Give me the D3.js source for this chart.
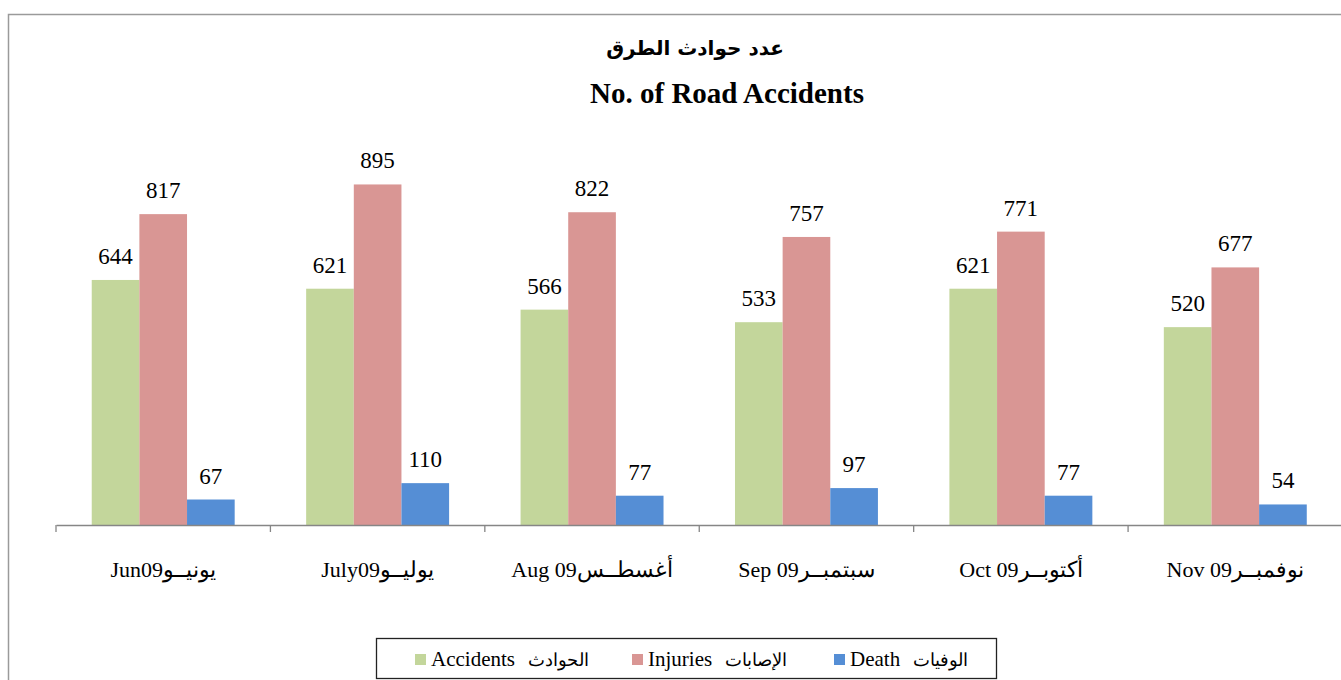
<!DOCTYPE html>
<html>
<head>
<meta charset="utf-8">
<script src="https://cdn.jsdelivr.net/npm/d3@7"></script>
<style>
  html, body { margin: 0; padding: 0; background: #fff; }
  svg { display: block; }
  text { font-family: "Liberation Serif", "Times New Roman", serif; fill: #000; }
</style>
</head>
<body>
<svg id="chart" width="1341" height="680"></svg>
<script>
// ---- data ----
const categories = ["Jun09يونيــو", "July09يوليــو", "Aug 09أغسطــس", "Sep 09سبتمبــر", "Oct 09أكتوبــر", "Nov 09نوفمبــر"];
const seriesNamesEn = ["Accidents", "Injuries", "Death"];
const seriesNamesAr = ["الحوادث", "الإصابات", "الوفيات"];
const accidents = [644, 621, 566, 533, 621, 520];
const injuries = [817, 895, 822, 757, 771, 677];
const deaths = [67, 110, 77, 97, 77, 54];
const seriesColors = ["#C3D69B", "#D99694", "#558ED5"];
const titleArabic = "عدد حوادث الطرق";
const titleEnglish = "No. of Road Accidents";

const seriesValues = [accidents, injuries, deaths];

const svg = d3.select("#chart");
const W = 1341, H = 680;

// outer frame
svg.append("path")
  .attr("d", `M8.5,${H} L8.5,14.5 L${W},14.5`)
  .attr("fill", "none").attr("stroke", "#9a9a9a").attr("stroke-width", 1.5);

// scales
const x = d3.scaleBand().domain(categories).range([56, 1342.5]).padding(0);
const xi = d3.scaleBand().domain(d3.range(3)).range([0, x.bandwidth()]).paddingInner(0).paddingOuter(0.75);
const y = d3.scaleLinear().domain([0, 1000]).range([525, 144.5]);

// bars
const groups = svg.append("g").selectAll("g")
  .data(categories).join("g")
  .attr("transform", d => `translate(${x(d)},0)`);

groups.each(function(cat, ci) {
  const g = d3.select(this);
  seriesValues.forEach((vals, si) => {
    const v = vals[ci];
    g.append("rect")
      .attr("x", xi(si)).attr("width", xi.bandwidth())
      .attr("y", y(v)).attr("height", y(0) - y(v))
      .attr("fill", seriesColors[si]);
    g.append("text")
      .attr("x", xi(si) + xi.bandwidth() / 2)
      .attr("y", y(v) - 16)
      .attr("text-anchor", "middle")
      .style("font-size", "23px")
      .text(v);
  });
});

// x axis
const axis = d3.axisBottom(x).tickSize(0).tickSizeOuter(0).tickPadding(36);
const ax = svg.append("g").attr("transform", `translate(0,${y(0)})`).call(axis);
ax.select(".domain").attr("stroke", "#868686").attr("stroke-width", 1.3);
ax.selectAll(".tick text")
  .style("font-family", "'Liberation Serif', serif")
  .style("font-size", "22px").attr("fill", "#000");
// boundary ticks
const bounds = categories.map(c => x(c)).concat([x.range()[1]]);
ax.selectAll(".bound").data(bounds).join("line")
  .attr("class", "bound")
  .attr("x1", d => d).attr("x2", d => d)
  .attr("y1", 0).attr("y2", 7)
  .attr("stroke", "#868686").attr("stroke-width", 1.3);

// titles
svg.append("text").attr("x", 695).attr("y", 55).attr("text-anchor", "middle")
  .style("font-family", "'DejaVu Sans', sans-serif").style("font-weight", "bold").style("font-size", "20px")
  .text(titleArabic);
svg.append("text").attr("x", 727).attr("y", 103).attr("text-anchor", "middle")
  .style("font-weight", "bold").style("font-size", "29px")
  .text(titleEnglish);

// legend
const lg = svg.append("g");
lg.append("rect").attr("x", 376.5).attr("y", 638.5).attr("width", 620).attr("height", 40)
  .attr("fill", "#fff").attr("stroke", "#222").attr("stroke-width", 1.3);
const legendX = [415, 632, 834];
seriesNamesEn.forEach((name, i) => {
  lg.append("rect").attr("x", legendX[i]).attr("y", 654).attr("width", 11).attr("height", 11)
    .attr("fill", seriesColors[i]);
  const t = lg.append("text").attr("x", legendX[i] + 16).attr("y", 666)
    .style("font-size", "21px").text(name);
  const w = t.node().getComputedTextLength();
  lg.append("text").attr("x", legendX[i] + 16 + w + 13).attr("y", 666)
    .style("font-size", "18px").text(seriesNamesAr[i]);
});
</script>
</body>
</html>
